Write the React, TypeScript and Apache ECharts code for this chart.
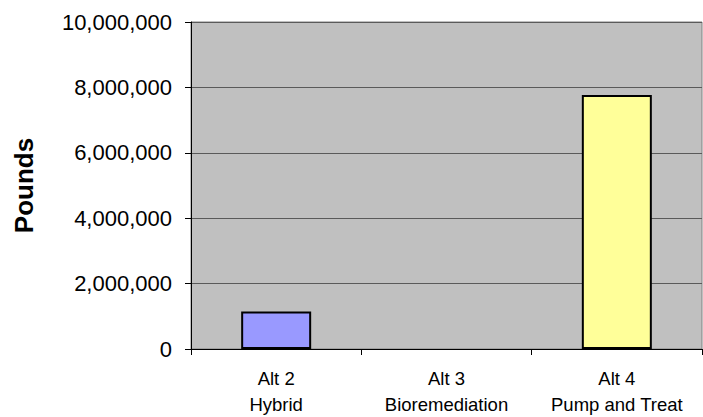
import React, { useEffect, useRef } from "react";
import * as echarts from "echarts";

const categories = ["Alt 2\nHybrid", "Alt 3\nBioremediation", "Alt 4\nPump and Treat"];
const pounds: (number | null)[] = [1150000, null, 7770000];
const barColors = ["#9999FF", "#C0C0C0", "#FFFF99"];
const yTicks = { min: 0, max: 10000000, interval: 2000000 };

export default function App() {
  const ref = useRef<HTMLDivElement>(null);
  useEffect(() => {
    if (!ref.current) return;
    const chart = echarts.init(ref.current, null, { renderer: "svg" });
    const font = "Arial, 'Liberation Sans', sans-serif";
    chart.setOption({
      animation: false,
      textStyle: { fontFamily: font },
      grid: {
        left: 191,
        top: 22,
        right: 1,
        bottom: 67,
        show: true,
        backgroundColor: "#C0C0C0",
        borderColor: "#808080",
        borderWidth: 1,
      },
      xAxis: {
        type: "category",
        data: categories,
        axisLine: { lineStyle: { color: "#000", width: 1 } },
        axisTick: { show: true, length: 6, lineStyle: { color: "#000" } },
        axisLabel: {
          color: "#000",
          fontSize: 18.5,
          lineHeight: 26,
          margin: 16,
          fontFamily: font,
          interval: 0,
        },
      },
      yAxis: {
        type: "value",
        min: yTicks.min,
        max: yTicks.max,
        interval: yTicks.interval,
        name: "Pounds",
        nameLocation: "middle",
        nameGap: 154,
        nameTextStyle: { fontSize: 26, fontWeight: "bold", color: "#000", fontFamily: font },
        axisLine: { show: true, lineStyle: { color: "#000", width: 1 } },
        axisTick: { show: true, inside: false, length: 6, lineStyle: { color: "#000" } },
        axisLabel: {
          color: "#000",
          fontSize: 22,
          margin: 19,
          fontFamily: font,
          formatter: (v: number) => v.toLocaleString("en-US"),
        },
        splitLine: { show: true, lineStyle: { color: "#5a5a5a", width: 1 } },
      },
      series: [
        {
          type: "bar",
          barWidth: 70,
          data: pounds.map((v, i) => ({
            value: v,
            itemStyle: { color: barColors[i], borderColor: "#000", borderWidth: 2 },
          })),
        },
      ],
    });
    return () => chart.dispose();
  }, []);
  return <div ref={ref} style={{ width: 703, height: 417, position: "absolute", left: 0, top: 0 }} />;
}
